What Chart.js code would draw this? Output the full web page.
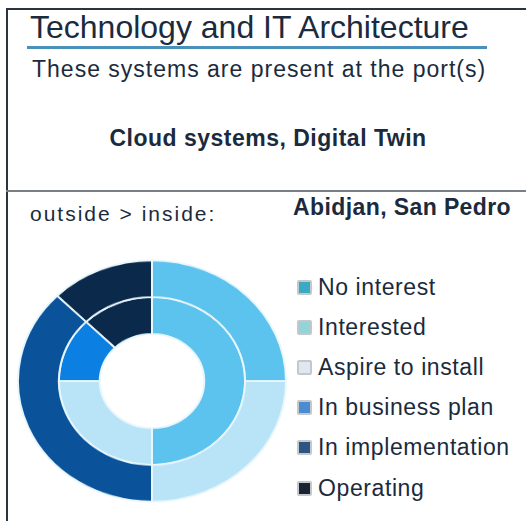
<!DOCTYPE html>
<html>
<head>
<meta charset="utf-8">
<script src="https://cdn.jsdelivr.net/npm/chart.js@4.4.0/dist/chart.umd.min.js"></script>
<style>
  body { margin: 0; background: #fff; font-family: "Liberation Sans", Arial, sans-serif; color: #1b2b3d; }
  #page { position: relative; width: 526px; height: 521px; overflow: hidden; }
  .frame { position: absolute; left: 6px; top: 8px; width: 530px; height: 530px; border-left: 2px solid #2b3540; border-top: 2px solid #2b3540; }
  .t { position: absolute; white-space: nowrap; }
  #title { left: 30px; top: 9px; font-size: 32px; }
  #uline { position: absolute; left: 27px; top: 46px; width: 460px; height: 3px; background: #4a90b8; }
  #sub { left: 32px; top: 56px; font-size: 23px; letter-spacing: 1px; }
  #sys { left: 0; width: 536px; text-align: center; top: 125px; font-size: 23px; font-weight: bold; letter-spacing: 0.5px; }
  #divider { position: absolute; left: 6px; top: 190px; width: 530px; height: 2px; background: #7a7f85; }
  #oi { left: 30px; top: 202px; font-size: 21px; letter-spacing: 2px; }
  #ports { left: 293px; top: 194px; font-size: 23px; font-weight: bold; letter-spacing: 0.4px; }
  #wrap { position: absolute; left: 17px; top: 246px; width: 270px; height: 270px; transform: scaleY(0.9); transform-origin: 50% 50%; }
  #legend { position: absolute; left: 297px; top: 267px; }
  .row { height: 40.2px; display: flex; align-items: center; font-size: 23px; white-space: nowrap; letter-spacing: 0.6px; }
  .sw { width: 11px; height: 11px; border: 2px solid #c4c8cc; border-radius: 2px; margin-right: 6px; box-sizing: content-box; }
</style>
</head>
<body>
<div id="page">
  <div class="frame"></div>
  <div class="t" id="title">Technology and IT Architecture</div>
  <div id="uline"></div>
  <div class="t" id="sub">These systems are present at the port(s)</div>
  <div class="t" id="sys">Cloud systems, Digital Twin</div>
  <div id="divider"></div>
  <div class="t" id="oi">outside &gt; inside:</div>
  <div class="t" id="ports">Abidjan, San Pedro</div>
  <div id="wrap"><canvas id="myChart" width="270" height="270"></canvas></div>
  <div id="legend"></div>
</div>
<script>
var labels = ['No interest', 'Interested', 'Aspire to install', 'In business plan', 'In implementation', 'Operating'];
// outside ring
var abidjan = [0, 2, 2, 0, 3, 1];
// inside ring
var sanPedro = [0, 4, 2, 1, 0, 1];
var sliceColors = ['#2f9fc4', '#5cc2ee', '#b9e4f8', '#0b7fe2', '#0a539b', '#0b2a4b'];
var swatchColors = ['#3aa9c2', '#92d5d6', '#dfe8f1', '#4a8bd2', '#2b5684', '#1a2430'];

var ctx = document.getElementById('myChart').getContext('2d');
var myChart = new Chart(ctx, {
    type: 'doughnut',
    data: {
        labels: labels,
        datasets: [{
            label: 'Abidjan',
            data: abidjan,
            backgroundColor: sliceColors,
            borderColor: '#e8f6fd',
            borderWidth: 2
        }, {
            label: 'San Pedro',
            data: sanPedro,
            backgroundColor: sliceColors,
            borderColor: '#e8f6fd',
            borderWidth: 2
        }]
    },
    options: {
        responsive: false,
        animation: false,
        cutout: '39%',
        plugins: { legend: { display: false }, tooltip: { enabled: false } }
    }
});

// legend
var lg = document.getElementById('legend');
for (var i = 0; i < labels.length; i++) {
    var row = document.createElement('div');
    row.className = 'row';
    row.innerHTML = '<span class="sw" style="background:' + swatchColors[i] + '"></span>' + labels[i];
    lg.appendChild(row);
}
</script>
</body>
</html>
